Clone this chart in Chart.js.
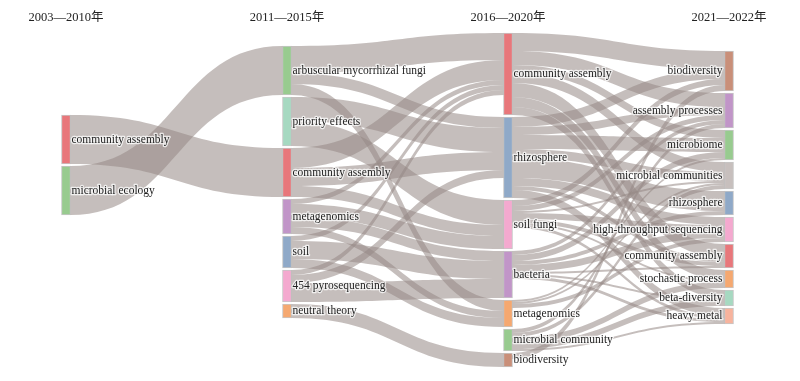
<!DOCTYPE html>
<html>
<head>
<meta charset="utf-8">
<script src="https://cdn.jsdelivr.net/npm/chart.js@4.4.1/dist/chart.umd.min.js"></script>
<style>
  html, body { margin: 0; padding: 0; background: #fff; }
</style>
</head>
<body>
<canvas id="sankey" width="800" height="381"></canvas>
<script>
// periods (one per column)
const periods = ['2003—2010年', '2011—2015年', '2016—2020年', '2021—2022年'];

// keywords of each period, top to bottom
const col0 = ['community assembly', 'microbial ecology'];
const col1 = ['arbuscular mycorrhizal fungi', 'priority effects', 'community assembly',
    'metagenomics', 'soil', '454 pyrosequencing', 'neutral theory'];
const col2 = ['community assembly', 'rhizosphere', 'soil fungi', 'bacteria',
    'metagenomics', 'microbial community', 'biodiversity'];
const col3 = ['biodiversity', 'assembly processes', 'microbiome', 'microbial communities',
    'rhizosphere', 'high-throughput sequencing', 'community assembly',
    'stochastic process', 'beta-diversity', 'heavy metal'];

// flows [from, to, value]
const links01 = [
    ['community assembly', 'community assembly', 49],
    ['microbial ecology', 'arbuscular mycorrhizal fungi', 49]
];
const links12 = [
    ['arbuscular mycorrhizal fungi', 'community assembly', 27],
    ['arbuscular mycorrhizal fungi', 'rhizosphere', 11],
    ['arbuscular mycorrhizal fungi', 'metagenomics', 11],
    ['priority effects', 'rhizosphere', 24],
    ['priority effects', 'soil fungi', 25],
    ['community assembly', 'community assembly', 20],
    ['community assembly', 'rhizosphere', 18],
    ['community assembly', 'soil fungi', 11],
    ['metagenomics', 'community assembly', 5],
    ['metagenomics', 'soil fungi', 13],
    ['metagenomics', 'bacteria', 10],
    ['metagenomics', 'metagenomics', 7],
    ['soil', 'community assembly', 5],
    ['soil', 'bacteria', 18],
    ['soil', 'metagenomics', 9],
    ['454 pyrosequencing', 'community assembly', 5],
    ['454 pyrosequencing', 'rhizosphere', 8],
    ['454 pyrosequencing', 'bacteria', 19],
    ['neutral theory', 'biodiversity', 14]
];
const links23 = [
    ['community assembly', 'biodiversity', 18],
    ['community assembly', 'assembly processes', 14],
    ['community assembly', 'microbiome', 8],
    ['community assembly', 'microbial communities', 10],
    ['community assembly', 'community assembly', 14],
    ['community assembly', 'stochastic process', 10],
    ['community assembly', 'beta-diversity', 8],
    ['rhizosphere', 'biodiversity', 10],
    ['rhizosphere', 'assembly processes', 8],
    ['rhizosphere', 'microbiome', 14],
    ['rhizosphere', 'microbial communities', 9],
    ['rhizosphere', 'rhizosphere', 20],
    ['rhizosphere', 'high-throughput sequencing', 8],
    ['rhizosphere', 'community assembly', 4],
    ['rhizosphere', 'heavy metal', 8],
    ['soil fungi', 'biodiversity', 6],
    ['soil fungi', 'assembly processes', 5],
    ['soil fungi', 'microbial communities', 2],
    ['soil fungi', 'high-throughput sequencing', 6],
    ['soil fungi', 'community assembly', 4],
    ['soil fungi', 'stochastic process', 2],
    ['soil fungi', 'heavy metal', 3],
    ['bacteria', 'assembly processes', 4],
    ['bacteria', 'microbiome', 6],
    ['bacteria', 'rhizosphere', 4],
    ['bacteria', 'high-throughput sequencing', 7],
    ['bacteria', 'community assembly', 2],
    ['bacteria', 'beta-diversity', 2],
    ['bacteria', 'heavy metal', 3],
    ['metagenomics', 'microbiome', 2],
    ['metagenomics', 'microbial communities', 2],
    ['metagenomics', 'high-throughput sequencing', 4],
    ['microbial community', 'assembly processes', 4],
    ['microbial community', 'microbial communities', 4],
    ['microbial community', 'stochastic process', 6],
    ['microbial community', 'beta-diversity', 6],
    ['microbial community', 'heavy metal', 2],
    ['biodiversity', 'biodiversity', 6]
];

// node colours per column
const colors0 = ['#e8777b', '#98cb8f'];
const colors1 = ['#98cb8f', '#a6d9c1', '#e8777b', '#c195c8', '#8fa9c8', '#f4a9cf', '#f5a870'];
const colors2 = ['#e8777b', '#8fa9c8', '#f4a9cf', '#c195c8', '#f5a870', '#98cb8f', '#c98f79'];
const colors3 = ['#c98f79', '#c195c8', '#98cb8f', '#c7bfbd', '#8fa9c8', '#f4a9cf',
    '#e8777b', '#f5a870', '#a6d9c1', '#f7b39d'];

const linkColor = 'rgba(150, 136, 133, 0.55)';
const nodeGap = 2;
const colOffsets = [82, 13, 0, 18]; // vertical start of each column, in value units

// build the layout
const columns = [col0, col1, col2, col3];
const nodeColors = [colors0, colors1, colors2, colors3];
const nodes = [];
columns.forEach((names, c) => {
    names.forEach((name, i) => {
        nodes.push({name: name, col: c, color: nodeColors[c][i], inV: 0, outV: 0, ins: [], outs: []});
    });
});

function findNode(c, name) {
    return nodes.find(n => n.col === c && n.name === name);
}

const links = [];
[links01, links12, links23].forEach((list, c) => {
    list.forEach(([s, t, v]) => {
        const src = findNode(c, s);
        const tgt = findNode(c + 1, t);
        const l = {src: src, tgt: tgt, v: v};
        src.outs.push(l);
        tgt.ins.push(l);
        src.outV += v;
        tgt.inV += v;
        links.push(l);
    });
});

columns.forEach((names, c) => {
    let y = colOffsets[c];
    nodes.filter(n => n.col === c).forEach(n => {
        n.y0 = y;
        n.y1 = y + Math.max(n.inV, n.outV);
        y = n.y1 + nodeGap;
    });
});

nodes.forEach(n => {
    n.outs.sort((a, b) => a.tgt.y0 - b.tgt.y0);
    n.ins.sort((a, b) => a.src.y0 - b.src.y0);
    let y = n.y0;
    n.outs.forEach(l => { l.sy0 = y; y += l.v; l.sy1 = y; });
    y = n.y0;
    n.ins.forEach(l => { l.ty0 = y; y += l.v; l.ty1 = y; });
});

const yMax = Math.max(...nodes.map(n => n.y1));
const nodeWidth = 9;

// links behind the nodes, labels on top
const sankeyPlugin = {
    id: 'sankeyLinks',
    beforeDatasetsDraw(chart) {
        const {ctx, scales: {x, y}} = chart;
        const half = nodeWidth / 2;
        ctx.save();
        ctx.fillStyle = linkColor;
        links.forEach(l => {
            const x0 = x.getPixelForValue(l.src.col) + half;
            const x1 = x.getPixelForValue(l.tgt.col) - half;
            const xm = (x0 + x1) / 2;
            const a0 = y.getPixelForValue(l.sy0), a1 = y.getPixelForValue(l.sy1);
            const b0 = y.getPixelForValue(l.ty0), b1 = y.getPixelForValue(l.ty1);
            ctx.beginPath();
            ctx.moveTo(x0, a0);
            ctx.bezierCurveTo(xm, a0, xm, b0, x1, b0);
            ctx.lineTo(x1, b1);
            ctx.bezierCurveTo(xm, b1, xm, a1, x0, a1);
            ctx.closePath();
            ctx.fill();
        });
        ctx.restore();
    },
    afterDatasetsDraw(chart) {
        const {ctx, scales: {x, y}} = chart;
        const half = nodeWidth / 2;
        ctx.save();
        ctx.font = '11.5px "Liberation Serif", "Times New Roman", serif';
        ctx.textBaseline = 'middle';
        ctx.lineJoin = 'round';
        nodes.forEach(n => {
            const cx = x.getPixelForValue(n.col);
            const cy = (y.getPixelForValue(n.y0) + y.getPixelForValue(n.y1)) / 2;
            let tx;
            if (n.col === columns.length - 1) {
                ctx.textAlign = 'right';
                tx = cx - half - 2;
            } else {
                ctx.textAlign = 'left';
                tx = cx + half + 1;
            }
            ctx.strokeStyle = 'rgba(255,255,255,0.75)';
            ctx.lineWidth = 2.5;
            ctx.strokeText(n.name, tx, cy);
            ctx.fillStyle = '#222';
            ctx.fillText(n.name, tx, cy);
        });
        // period headers
        ctx.font = '12.5px "Liberation Serif", "Noto Sans CJK SC", serif';
        ctx.textAlign = 'center';
        ctx.fillStyle = '#222';
        periods.forEach((p, i) => {
            const w = ctx.measureText(p).width;
            const px = Math.max(x.getPixelForValue(i), 10 + w / 2);
            ctx.fillText(p, px, 18);
        });
        ctx.restore();
    }
};

new Chart(document.getElementById('sankey'), {
    type: 'bar',
    data: {
        datasets: [{
            data: nodes.map(n => ({x: n.col, y: [n.y0, n.y1]})),
            backgroundColor: nodes.map(n => n.color),
            borderColor: 'rgba(90, 90, 90, 0.35)',
            borderWidth: 1,
            borderSkipped: false,
            barThickness: nodeWidth,
            clip: false
        }]
    },
    options: {
        responsive: false,
        animation: false,
        devicePixelRatio: 1,
        layout: {padding: {left: 66, right: 71, top: 33, bottom: 14}},
        scales: {
            x: {type: 'linear', min: 0, max: 3, offset: false, display: false},
            y: {min: 0, max: yMax, reverse: true, display: false}
        },
        plugins: {
            legend: {display: false},
            tooltip: {enabled: false}
        }
    },
    plugins: [sankeyPlugin]
});
</script>
</body>
</html>
